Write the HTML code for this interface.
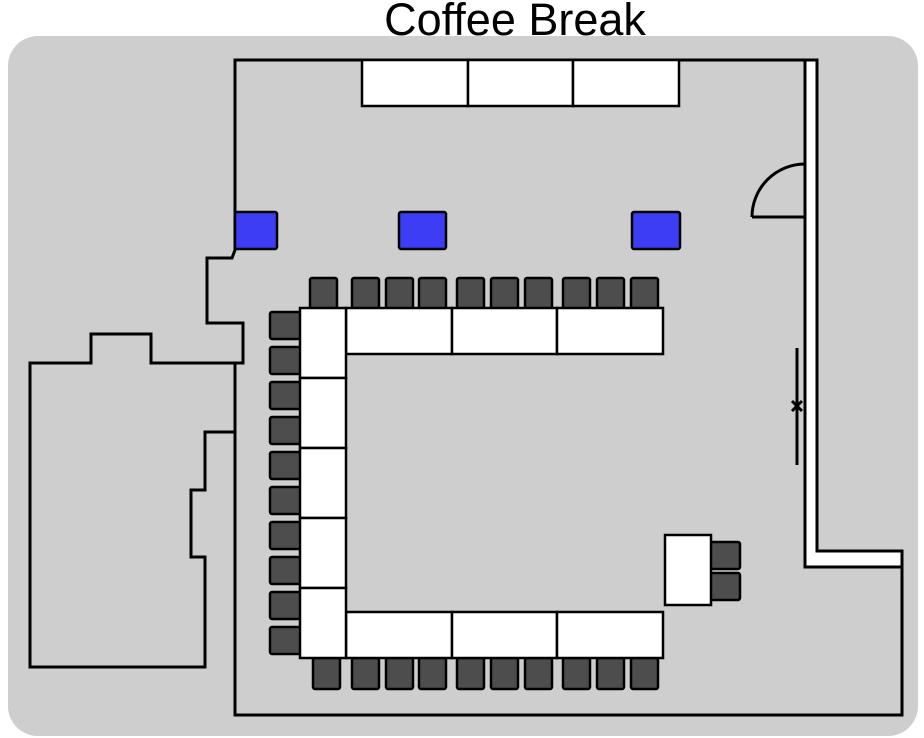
<!DOCTYPE html>
<html><head><style>body{margin:0;background:#fff}svg{display:block}</style></head><body>
<svg width="924" height="738" viewBox="0 0 924 738" xmlns="http://www.w3.org/2000/svg">
<rect x="8" y="36" width="910" height="700" rx="30" fill="#cecece"/>
<text x="515" y="35" text-anchor="middle" font-family="Liberation Sans, sans-serif" font-size="45" fill="#000">Coffee Break</text>
<g fill="none" stroke="#000" stroke-width="3">
<path d="M805 60 H235 V250 L232 258 H207 V323 H243 V363 H151 V334 H91 V363 H30 V667 H205 V557 H191 V490 H205 V432 H235"/>
<path d="M235 363 V715 H902 V560"/>
<path d="M752 217 H805 M752 217 A53 53 0 0 1 805 164"/>
<path d="M797 348 V465 M792 401 L802 411 M802 401 L792 411"/>
</g>
<path d="M805 60 H817 V551 H902 V567 H805 Z" fill="#fff" stroke="#000" stroke-width="3"/>
<g fill="#fff" stroke="#000" stroke-width="2.5">
<rect x="362" y="60" width="106" height="46"/><rect x="468" y="60" width="105" height="46"/><rect x="573" y="60" width="106" height="46"/>
</g>
<g fill="#3d3df5" stroke="#000" stroke-width="2.5">
<rect x="235" y="212" width="42" height="37" rx="2"/><rect x="399" y="212" width="47" height="37" rx="2"/><rect x="632" y="212" width="48" height="37" rx="2"/>
</g>
<g fill="#4d4d4d" stroke="#000" stroke-width="2.5">
<rect x="310" y="278" width="27" height="31" rx="2"/><rect x="352" y="278" width="27" height="31" rx="2"/><rect x="386" y="278" width="27" height="31" rx="2"/><rect x="419" y="278" width="27" height="31" rx="2"/><rect x="457" y="278" width="27" height="31" rx="2"/><rect x="491" y="278" width="27" height="31" rx="2"/><rect x="525" y="278" width="27" height="31" rx="2"/><rect x="563" y="278" width="27" height="31" rx="2"/><rect x="597" y="278" width="27" height="31" rx="2"/><rect x="631" y="278" width="27" height="31" rx="2"/>
<rect x="313" y="658" width="27" height="31" rx="2"/><rect x="352" y="658" width="27" height="31" rx="2"/><rect x="386" y="658" width="27" height="31" rx="2"/><rect x="419" y="658" width="27" height="31" rx="2"/><rect x="457" y="658" width="27" height="31" rx="2"/><rect x="491" y="658" width="27" height="31" rx="2"/><rect x="525" y="658" width="27" height="31" rx="2"/><rect x="563" y="658" width="27" height="31" rx="2"/><rect x="597" y="658" width="27" height="31" rx="2"/><rect x="631" y="658" width="27" height="31" rx="2"/>
<rect x="270" y="312" width="31" height="27" rx="2"/><rect x="270" y="347" width="31" height="27" rx="2"/><rect x="270" y="382" width="31" height="27" rx="2"/><rect x="270" y="417" width="31" height="27" rx="2"/><rect x="270" y="452" width="31" height="27" rx="2"/><rect x="270" y="487" width="31" height="27" rx="2"/><rect x="270" y="522" width="31" height="27" rx="2"/><rect x="270" y="557" width="31" height="27" rx="2"/><rect x="270" y="592" width="31" height="27" rx="2"/><rect x="270" y="627" width="31" height="27" rx="2"/>
<rect x="709" y="542" width="31" height="27" rx="2"/><rect x="709" y="573" width="31" height="27" rx="2"/>
</g>
<g fill="#fff" stroke="#000" stroke-width="2.5">
<rect x="346" y="308" width="106" height="46"/><rect x="452" y="308" width="105" height="46"/><rect x="557" y="308" width="106" height="46"/>
<rect x="346" y="612" width="106" height="46"/><rect x="452" y="612" width="105" height="46"/><rect x="557" y="612" width="106" height="46"/>
<rect x="300" y="308" width="46" height="70"/><rect x="300" y="378" width="46" height="70"/><rect x="300" y="448" width="46" height="70"/><rect x="300" y="518" width="46" height="70"/><rect x="300" y="588" width="46" height="70"/>
<rect x="665" y="535" width="46" height="70"/>
</g>
</svg>
</body></html>
